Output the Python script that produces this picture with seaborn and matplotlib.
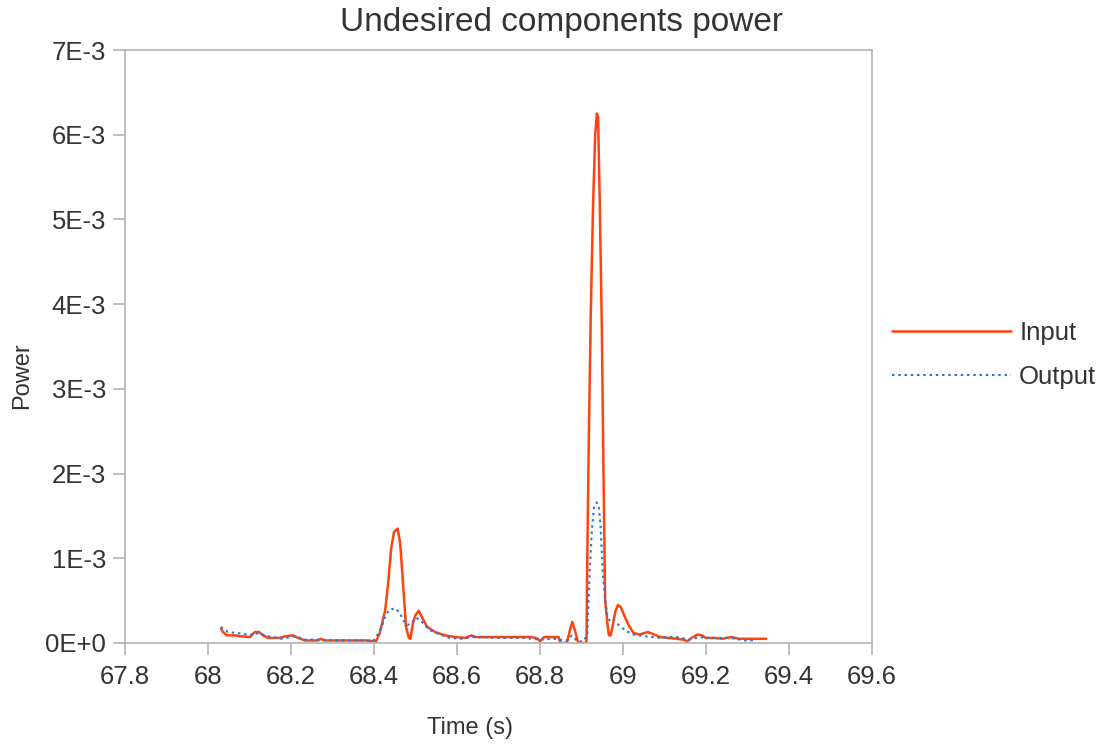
import matplotlib
matplotlib.use("Agg")
import matplotlib.pyplot as plt
import seaborn as sns
import pandas as pd
import numpy as np

# ---- data (power in units of 1E-3) ----
input_time = [68.031, 68.036, 68.046, 68.065, 68.077, 68.101, 68.113, 68.123, 68.133, 68.145,
              68.173, 68.186, 68.205, 68.217, 68.234, 68.25, 68.265, 68.272, 68.28, 68.30,
              68.34, 68.38, 68.405, 68.414, 68.427, 68.434, 68.441, 68.448, 68.457, 68.463,
              68.470, 68.477, 68.484, 68.488, 68.494, 68.500, 68.508, 68.516, 68.528, 68.547,
              68.571, 68.595, 68.62, 68.635, 68.645, 68.66, 68.70, 68.74, 68.78, 68.795,
              68.80, 68.81, 68.845, 68.849, 68.865, 68.872, 68.878, 68.884, 68.892, 68.908,
              68.912, 68.914, 68.917, 68.922, 68.928, 68.933, 68.937, 68.940, 68.944, 68.949,
              68.953, 68.957, 68.962, 68.966, 68.970, 68.975, 68.982, 68.988, 68.995, 69.005,
              69.015, 69.025, 69.04, 69.06, 69.075, 69.09, 69.11, 69.13, 69.145, 69.155,
              69.165, 69.18, 69.19, 69.20, 69.22, 69.24, 69.26, 69.28, 69.30, 69.32, 69.345]
input_power = [0.17, 0.13, 0.09, 0.09, 0.08, 0.07, 0.13, 0.13, 0.09, 0.06,
               0.06, 0.08, 0.09, 0.06, 0.03, 0.03, 0.03, 0.05, 0.03, 0.03,
               0.03, 0.03, 0.02, 0.12, 0.39, 0.70, 1.10, 1.31, 1.35, 1.18,
               0.70, 0.19, 0.06, 0.05, 0.24, 0.33, 0.38, 0.30, 0.19, 0.13,
               0.09, 0.07, 0.06, 0.09, 0.07, 0.07, 0.07, 0.07, 0.07, 0.05,
               0.02, 0.07, 0.07, 0.00, 0.00, 0.15, 0.25, 0.15, 0.00, 0.00,
               0.00, 1.00, 2.20, 3.80, 5.20, 6.00, 6.25, 6.20, 5.20, 3.70,
               2.00, 0.50, 0.25, 0.09, 0.09, 0.20, 0.38, 0.45, 0.42, 0.30,
               0.20, 0.12, 0.10, 0.13, 0.10, 0.07, 0.06, 0.05, 0.04, 0.02,
               0.06, 0.10, 0.09, 0.06, 0.06, 0.05, 0.07, 0.05, 0.05, 0.05, 0.05]

output_time = [68.031, 68.048, 68.065, 68.084, 68.101, 68.113, 68.137, 68.154, 68.178, 68.21,
               68.234, 68.27, 68.30, 68.35, 68.40, 68.418, 68.427, 68.436, 68.451, 68.463,
               68.470, 68.480, 68.492, 68.501, 68.511, 68.523, 68.535, 68.559, 68.583, 68.61,
               68.64, 68.70, 68.76, 68.80, 68.84, 68.862, 68.877, 68.89, 68.905, 68.914,
               68.920, 68.925, 68.930, 68.937, 68.942, 68.946, 68.949, 68.952, 68.957, 68.961,
               68.969, 68.978, 68.988, 69.005, 69.024, 69.053, 69.09, 69.108, 69.13, 69.16,
               69.186, 69.20, 69.23, 69.258, 69.294, 69.318]
output_power = [0.19, 0.13, 0.12, 0.11, 0.09, 0.12, 0.09, 0.07, 0.05, 0.08,
                0.04, 0.04, 0.03, 0.03, 0.03, 0.18, 0.31, 0.39, 0.41, 0.35,
                0.27, 0.21, 0.24, 0.30, 0.27, 0.21, 0.15, 0.10, 0.06, 0.05,
                0.07, 0.06, 0.06, 0.04, 0.05, 0.02, 0.09, 0.02, 0.02, 0.10,
                0.86, 1.33, 1.60, 1.66, 1.60, 1.37, 1.06, 0.78, 0.54, 0.35,
                0.25, 0.27, 0.22, 0.15, 0.10, 0.08, 0.06, 0.07, 0.07, 0.04,
                0.07, 0.06, 0.06, 0.06, 0.03, 0.03]

y_ticks = [0, 1, 2, 3, 4, 5, 6, 7]
y_tick_labels = ["0E+0", "1E-3", "2E-3", "3E-3", "4E-3", "5E-3", "6E-3", "7E-3"]
x_ticks = [67.8, 68.0, 68.2, 68.4, 68.6, 68.8, 69.0, 69.2, 69.4, 69.6]
x_tick_labels = ["67.8", "68", "68.2", "68.4", "68.6", "68.8", "69", "69.2", "69.4", "69.6"]

df_in = pd.DataFrame({"time": input_time, "power": np.array(input_power) * 1e-3})
df_out = pd.DataFrame({"time": output_time, "power": np.array(output_power) * 1e-3})

sns.set_theme(style="white")
plt.rcParams["font.family"] = ["Liberation Sans", "DejaVu Sans"]

fig = plt.figure(figsize=(11.04, 7.45), dpi=100)
ax = fig.add_axes([125 / 1104, 1 - 643 / 745, (872 - 125) / 1104, (643 - 50) / 745])

red = "#ff420e"
blue = "#2a78d6"
sns.lineplot(data=df_in, x="time", y="power", ax=ax, color=red, linewidth=1.8,
             label="Input", estimator=None, sort=False)
sns.lineplot(data=df_out, x="time", y="power", ax=ax, color=blue, linewidth=1.5,
             linestyle=(0, (1.2, 1.8)), label="Output", estimator=None, sort=False)

ax.set_xlim(67.8, 69.6)
ax.set_ylim(0, 7e-3)
ax.set_xticks(x_ticks)
ax.set_xticklabels(x_tick_labels)
ax.set_yticks([v * 1e-3 for v in y_ticks])
ax.set_yticklabels(y_tick_labels)

text_color = "#333333"
grey = "#b3b3b3"
for sp in ax.spines.values():
    sp.set_color(grey)
    sp.set_linewidth(1.2)
ax.tick_params(axis="both", which="major", direction="out", length=8.5, width=1.2,
               color=grey, labelsize=18.5, labelcolor=text_color,
               bottom=True, left=True)
ax.tick_params(axis="y", pad=5)
ax.tick_params(axis="x", pad=7)

ax.set_xlabel("Time (s)", fontsize=17, color=text_color)
ax.set_ylabel("Power", fontsize=17, color=text_color)
ax.xaxis.label.set_va("center")
ax.yaxis.label.set_va("center")
ax.xaxis.set_label_coords((470 - 125) / 747, (643 - 728) / 593)
ax.yaxis.set_label_coords((22 - 125) / 747, (643 - 376) / 593)

fig.text(562 / 1104, 1 - 23 / 745, "Undesired components power", ha="center", va="center",
         fontsize=24, color=text_color)

ax.legend(loc="center left", bbox_to_anchor=((892 - 125) / 747, (643 - 355) / 593),
          frameon=False, fontsize=18.5, handlelength=4.65, handletextpad=0.3,
          labelspacing=0.75, borderpad=0, borderaxespad=0, labelcolor=text_color)

fig.savefig("out.png", dpi=100)
